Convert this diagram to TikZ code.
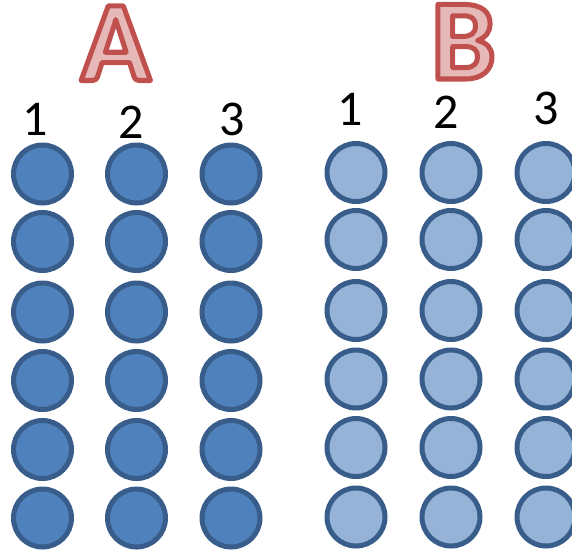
\documentclass[tikz,border=0pt]{standalone}
\usepackage{fontspec}
\setmainfont{Carlito}
\definecolor{darkfill}{HTML}{4F81BD}
\definecolor{lightfill}{HTML}{95B3D7}
\definecolor{ring}{HTML}{385D8A}
\definecolor{letterfill}{HTML}{E6B9B8}
\newcommand\outlinedtext[1]{\special{pdf:literal direct 2 Tr 5 w 1 j 0.753 0.314 0.302 RG}#1\special{pdf:literal direct 0 Tr}}
\begin{document}
\begin{tikzpicture}[x=1pt,y=1pt,
 dotA/.style={circle,draw=ring,fill=darkfill,line width=5pt,minimum size=58pt,inner sep=0pt},
 dotB/.style={dotA,fill=lightfill},
 num/.style={anchor=base,inner sep=0pt,text height=32pt,text depth=0pt,font=\fontsize{50}{60}\selectfont},
 big/.style={anchor=base,inner sep=0pt,text height=74pt,text depth=0pt,text=letterfill,font=\fontsize{115}{130}\selectfont\bfseries}]
\useasboundingbox (0,0) rectangle (572,-549);
% letters
\node[big] (letA) at (115.7,-80.5) {\outlinedtext{A}};
\node[big] (letB) at (463.5,-79) {\outlinedtext{B}};
% column numbers
\node[num] (nA1) at (35,-135.5) {1};
\node[num] (nA2) at (131,-138.4) {2};
\node[num] (nA3) at (232,-135.5) {3};
\node[num] (nB1) at (350,-125.6) {1};
\node[num] (nB2) at (446,-128) {2};
\node[num] (nB3) at (546.5,-124.5) {3};
% circles group A
\foreach \c/\x in {1/42.5,2/136.5,3/231}
  \foreach \r/\y in {1/174,2/241.5,3/312,4/380.5,5/449.5,6/518}
    \node[dotA] (a\c\r) at (\x,-\y) {};
% circles group B
\foreach \c/\x in {1/356,2/451,3/546}
  \foreach \r/\y in {1/172.5,2/239.5,3/310.5,4/379,5/447.5,6/517}
    \node[dotB] (b\c\r) at (\x,-\y) {};
\end{tikzpicture}
\end{document}
